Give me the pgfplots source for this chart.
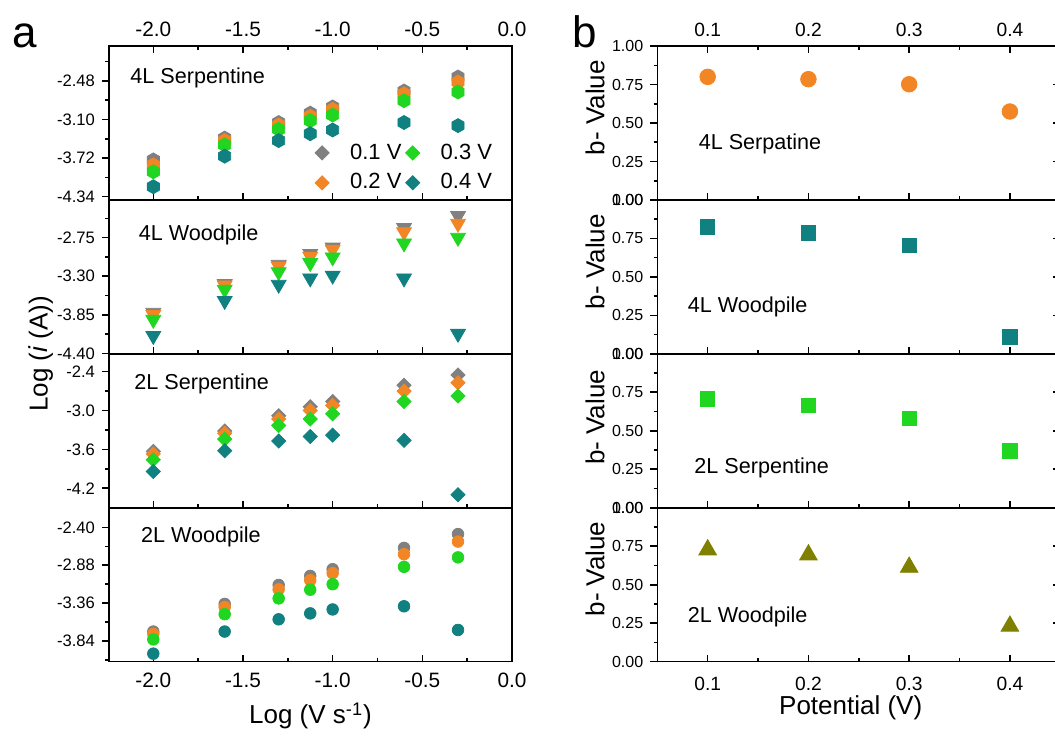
\documentclass[border=0pt]{standalone}
\usepackage{fontspec}
\setmainfont{Liberation Sans}
\usepackage{pgfplots}
\usepackage{pgfplotstable}
\pgfplotsset{compat=1.18}

\definecolor{cgray}{RGB}{128,128,128}
\definecolor{corange}{RGB}{242,133,36}
\definecolor{cgreen}{RGB}{32,214,32}
\definecolor{cteal}{RGB}{16,128,128}
\definecolor{colive}{RGB}{128,128,0}

% filled hexagon with a vertex on top
\pgfdeclareplotmark{hexagon*}{%
  \pgfpathmoveto{\pgfpointpolar{90}{\pgfplotmarksize}}%
  \pgfpathlineto{\pgfpointpolar{150}{\pgfplotmarksize}}%
  \pgfpathlineto{\pgfpointpolar{210}{\pgfplotmarksize}}%
  \pgfpathlineto{\pgfpointpolar{270}{\pgfplotmarksize}}%
  \pgfpathlineto{\pgfpointpolar{330}{\pgfplotmarksize}}%
  \pgfpathlineto{\pgfpointpolar{30}{\pgfplotmarksize}}%
  \pgfpathclose
  \pgfusepathqfillstroke}

% log(i) versus log(scan rate); columns: 0.1 V, 0.2 V, 0.3 V, 0.4 V
\pgfplotstableread{
x v1 v2 v3 v4
-2.000 -3.75 -3.83 -3.94 -4.18
-1.602 -3.40 -3.44 -3.51 -3.69
-1.301 -3.15 -3.19 -3.26 -3.44
-1.125 -3.00 -3.05 -3.12 -3.33
-1.000 -2.90 -2.94 -3.03 -3.27
-0.602 -2.645 -2.69 -2.80 -3.15
-0.301 -2.42 -2.50 -2.66 -3.20
}\tabFourSerp

\pgfplotstableread{
x v1 v2 v3 v4
-2.000 -3.82 -3.85 -3.92 -4.15
-1.602 -3.41 -3.43 -3.49 -3.65
-1.301 -3.135 -3.16 -3.24 -3.42
-1.125 -2.98 -3.02 -3.11 -3.33
-1.000 -2.89 -2.92 -3.03 -3.29
-0.602 -2.61 -2.67 -2.83 -3.33
-0.301 -2.44 -2.55 -2.75 -4.12
}\tabFourWood

\pgfplotstableread{
x v1 v2 v3 v4
-2.000 -3.63 -3.67 -3.76 -3.94
-1.602 -3.315 -3.35 -3.44 -3.62
-1.301 -3.08 -3.13 -3.23 -3.47
-1.125 -2.94 -3.00 -3.13 -3.40
-1.000 -2.86 -2.92 -3.05 -3.38
-0.602 -2.61 -2.70 -2.86 -3.46
-0.301 -2.45 -2.57 -2.775 -4.30
}\tabTwoSerp

\pgfplotstableread{
x v1 v2 v3 v4
-2.000 -3.72 -3.75 -3.82 -4.00
-1.602 -3.37 -3.41 -3.50 -3.72
-1.301 -3.13 -3.185 -3.30 -3.565
-1.125 -3.015 -3.07 -3.19 -3.49
-1.000 -2.93 -2.98 -3.12 -3.44
-0.602 -2.66 -2.74 -2.90 -3.40
-0.301 -2.485 -2.58 -2.78 -3.70
}\tabTwoWood

% b-values versus potential
\pgfplotstableread{
p fourserp fourwood twoserp twowood
0.1 0.800 0.824 0.706 0.727
0.2 0.785 0.785 0.665 0.694
0.3 0.752 0.706 0.580 0.614
0.4 0.575 0.109 0.369 0.231
}\tabB

\pgfplotsset{
  base/.style={
    scale only axis, width=201.5pt, height=76.95pt,
    axis line style={line width=0.8pt},
    tick style={line width=0.8pt, black},
    major tick length=3.5pt, minor tick length=1.8pt,
    xtick align=inside, ytick align=outside,
    ytick pos=left,
  },
  L/.style={base,
    xmin=-2.247, xmax=0,
    xtick={-2,-1.5,-1,-0.5,0}, minor xtick={-1.75,-1.25,-0.75,-0.25},
    xtick pos=left, xticklabels={},
    xticklabel style={font=\fontsize{10.4}{12}\selectfont},
    yticklabel style={font=\fontsize{8.3}{10}\selectfont},
  },
  R/.style={base,
    xmin=0.05, xmax=0.45, ymin=0, ymax=1,
    xtick={0.1,0.2,0.3,0.4}, minor xtick={0.15,0.25,0.35},
    xtick pos=left, xticklabels={},
    ytick={0,0.25,0.5,0.75,1}, minor ytick={0.125,0.375,0.625,0.875},
    yticklabels={0.00,0.25,0.50,0.75,1.00},
    xticklabel style={font=\fontsize{9.6}{11}\selectfont},
    yticklabel style={font=\fontsize{8}{10}\selectfont},
  },
  legmark/.style={only marks, mark=square*, mark size=2.5pt,
    mark options={rotate=45},
    legend image code/.code={\draw[##1] plot coordinates {(0pt,0pt)};
      \path[draw=none, fill=none] (-3.6pt,0pt) rectangle (12pt,0.1pt);}},
}

\newcommand\rightticks{%
  \pgfplotsinvokeforeach{0.25,0.5,0.75}{\draw[line width=0.8pt] (axis cs:0.45,##1) -- ++(-3.5pt,0pt);}}

\begin{document}
\begin{tikzpicture}
\useasboundingbox (0,0) rectangle (527.5pt,369pt);

% ---------------- panel a ----------------
\begin{axis}[L, at={(54.5pt,269pt)}, anchor=south west,
    ymin=-4.393, ymax=-1.924,
    xtick pos=both, xticklabel pos=right, xticklabel shift=1.1pt,
    xticklabels={-2.0,-1.5,-1.0,-0.5,0.0},
    ytick={-4.34,-3.72,-3.10,-2.48}, minor ytick={-4.03,-3.41,-2.79,-2.17},
    yticklabels={-4.34,-3.72,-3.10,-2.48},
    legend columns=2,
    legend style={at={(axis description cs:0.51,0.394)}, anchor=north west,
      draw=none, fill=none, inner sep=0pt, row sep=1.75pt,
      font=\fontsize{11}{13}\selectfont},
    legend entries={0.1 V,0.3 V,0.2 V,0.4 V},
  ]
  \addlegendimage{legmark, color=cgray}
  \addlegendimage{legmark, color=cgreen}
  \addlegendimage{legmark, color=corange}
  \addlegendimage{legmark, color=cteal}
  \addplot[only marks, mark=hexagon*, mark size=3.5pt, color=cgray] table[x=x,y=v1]{\tabFourSerp};
  \addplot[only marks, mark=hexagon*, mark size=3.5pt, color=corange] table[x=x,y=v2]{\tabFourSerp};
  \addplot[only marks, mark=hexagon*, mark size=3.5pt, color=cgreen] table[x=x,y=v3]{\tabFourSerp};
  \addplot[only marks, mark=hexagon*, mark size=3.5pt, color=cteal] table[x=x,y=v4]{\tabFourSerp};
\end{axis}

\begin{axis}[L, at={(54.5pt,192.1pt)}, anchor=south west,
    ymin=-4.407, ymax=-2.212,
    ytick={-4.40,-3.85,-3.30,-2.75}, minor ytick={-4.125,-3.575,-3.025,-2.475},
    yticklabels={-4.40,-3.85,-3.30,-2.75},
  ]
  \addplot[only marks, mark=triangle*, mark size=4.3pt, mark options={rotate=180}, color=cgray] table[x=x,y=v1]{\tabFourWood};
  \addplot[only marks, mark=triangle*, mark size=4.3pt, mark options={rotate=180}, color=corange] table[x=x,y=v2]{\tabFourWood};
  \addplot[only marks, mark=triangle*, mark size=4.3pt, mark options={rotate=180}, color=cgreen] table[x=x,y=v3]{\tabFourWood};
  \addplot[only marks, mark=triangle*, mark size=4.3pt, mark options={rotate=180}, color=cteal] table[x=x,y=v4]{\tabFourWood};
\end{axis}

\begin{axis}[L, at={(54.5pt,115.15pt)}, anchor=south west,
    ymin=-4.4995, ymax=-2.1237,
    ytick={-4.2,-3.6,-3.0,-2.4}, minor ytick={-3.9,-3.3,-2.7},
    yticklabels={-4.2,-3.6,-3.0,-2.4},
  ]
  \addplot[only marks, mark=square*, mark size=2.5pt, mark options={rotate=45}, color=cgray] table[x=x,y=v1]{\tabTwoSerp};
  \addplot[only marks, mark=square*, mark size=2.5pt, mark options={rotate=45}, color=corange] table[x=x,y=v2]{\tabTwoSerp};
  \addplot[only marks, mark=square*, mark size=2.5pt, mark options={rotate=45}, color=cgreen] table[x=x,y=v3]{\tabTwoSerp};
  \addplot[only marks, mark=square*, mark size=2.5pt, mark options={rotate=45}, color=cteal] table[x=x,y=v4]{\tabTwoSerp};
\end{axis}

\begin{axis}[L, at={(54.5pt,38.15pt)}, anchor=south west,
    ymin=-4.102, ymax=-2.152,
    xticklabels={-2.0,-1.5,-1.0,-0.5,0.0}, xticklabel shift=2pt,
    ytick={-3.84,-3.36,-2.88,-2.40}, minor ytick={-4.08,-3.60,-3.12,-2.64},
    yticklabels={-3.84,-3.36,-2.88,-2.40},
  ]
  \addplot[only marks, mark=*, mark size=2.9pt, color=cgray] table[x=x,y=v1]{\tabTwoWood};
  \addplot[only marks, mark=*, mark size=2.9pt, color=corange] table[x=x,y=v2]{\tabTwoWood};
  \addplot[only marks, mark=*, mark size=2.9pt, color=cgreen] table[x=x,y=v3]{\tabTwoWood};
  \addplot[only marks, mark=*, mark size=2.9pt, color=cteal] table[x=x,y=v4]{\tabTwoWood};
\end{axis}

% ---------------- panel b ----------------
\begin{axis}[R, at={(328.65pt,269pt)}, anchor=south west,
    xtick pos=both, xticklabel pos=right, xticklabel shift=1.1pt,
    xticklabels={0.1,0.2,0.3,0.4},
  ]
  \addplot[only marks, mark=*, mark size=3.9pt, color=corange] table[x=p,y=fourserp]{\tabB};
  \rightticks
\end{axis}

\begin{axis}[R, at={(328.65pt,192.1pt)}, anchor=south west]
  \addplot[only marks, mark=square*, mark size=3.6pt, color=cteal] table[x=p,y=fourwood]{\tabB};
  \rightticks
\end{axis}

\begin{axis}[R, at={(328.65pt,115.15pt)}, anchor=south west]
  \addplot[only marks, mark=square*, mark size=3.6pt, color=cgreen] table[x=p,y=twoserp]{\tabB};
  \rightticks
\end{axis}

\begin{axis}[R, at={(328.65pt,38.15pt)}, anchor=south west,
    xticklabels={0.1,0.2,0.3,0.4}, xticklabel shift=4pt,
  ]
  \addplot[only marks, mark=triangle*, mark size=5.1pt, color=colive] table[x=p,y=twowood]{\tabB};
  \rightticks
\end{axis}

% ---------------- labels ----------------
\node[anchor=base west, inner sep=0pt, font=\fontsize{22}{26}\selectfont] at (6pt,345pt) {a};
\node[anchor=base west, inner sep=0pt, font=\fontsize{22}{26}\selectfont] at (286pt,345pt) {b};

\begin{scope}[every node/.style={anchor=base west, inner sep=0pt, font=\fontsize{10.8}{13}\selectfont}]
  \node at (65pt,327.35pt) {4L Serpentine};
  \node at (69.2pt,248.5pt) {4L Woodpile};
  \node at (67pt,174.35pt) {2L Serpentine};
  \node at (70.3pt,97.65pt) {2L Woodpile};
  \node at (349.2pt,294pt) {4L Serpatine};
  \node at (343.7pt,212.65pt) {4L Woodpile};
  \node at (347pt,132.35pt) {2L Serpentine};
  \node at (343.7pt,57.65pt) {2L Woodpile};
\end{scope}

\node[rotate=90, font=\fontsize{13}{15}\selectfont] at (20.5pt,192.1pt) {Log (\textit{i} (A))};
\node[anchor=base, font=\fontsize{13}{15}\selectfont] at (155.25pt,7pt) {Log (V s\textsuperscript{-1})};
\node[anchor=base, font=\fontsize{13}{15}\selectfont] at (425.35pt,11.5pt) {Potential (V)};

\begin{scope}[every node/.style={rotate=90, font=\fontsize{13}{15}\selectfont}]
  \node at (297.5pt,315.15pt) {b- Value};
  \node at (297.5pt,238.15pt) {b- Value};
  \node at (297.5pt,160.25pt) {b- Value};
  \node at (297.5pt,84.5pt) {b- Value};
\end{scope}
\end{tikzpicture}
\end{document}
